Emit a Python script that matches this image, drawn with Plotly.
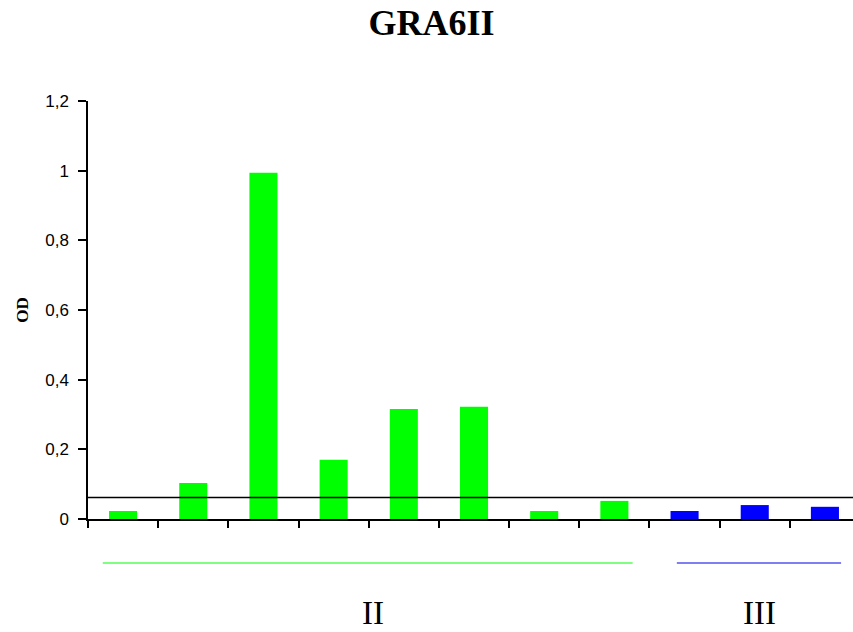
import plotly.graph_objects as go

categories = ["1", "2", "3", "4", "5", "6", "7", "8", "9", "10", "11"]
od_values = [0.023, 0.103, 0.994, 0.170, 0.316, 0.322, 0.023, 0.052, 0.023, 0.040, 0.035]
groups = ["II", "II", "II", "II", "II", "II", "II", "II", "III", "III", "III"]
cutoff = 0.062
y_ticks = [0, 0.2, 0.4, 0.6, 0.8, 1.0, 1.2]

group_colors = {"II": "#00FF00", "III": "#0000FF"}
line_colors = {"II": "#55FF55", "III": "#5555EE"}

xs = list(range(len(categories)))
fig = go.Figure()
fig.add_trace(go.Bar(
    x=xs, y=od_values,
    marker=dict(color=[group_colors[g] for g in groups], line=dict(width=0)),
    width=0.4, showlegend=False, hoverinfo="y",
))

# cutoff line
fig.add_shape(type="line", xref="paper", yref="y", x0=0, x1=1, y0=cutoff, y1=cutoff,
              line=dict(color="black", width=1.5))

# group underlines and labels
group_spans = {"II": (-0.29, 7.26), "III": (7.89, 10.23)}
label_pos = {"II": 3.56, "III": 9.07}
for g, (a, b) in group_spans.items():
    fig.add_shape(type="line", xref="x", yref="paper", x0=a, x1=b, y0=-0.105, y1=-0.105,
                  line=dict(color=line_colors[g], width=1.5))
    fig.add_annotation(x=label_pos[g], y=-0.225, xref="x", yref="paper", text=g,
                       showarrow=False, yanchor="middle",
                       font=dict(family="Liberation Serif", size=33, color="black"))

fig.update_layout(
    width=853, height=632,
    margin=dict(l=88, r=0, t=101, b=113),
    plot_bgcolor="white", paper_bgcolor="white",
    separators=", ",
    title=dict(text="<b>GRA6II</b>", x=0.506, xanchor="center", y=0.965, yanchor="middle",
               font=dict(family="Liberation Serif", size=36, color="black")),
    xaxis=dict(range=[-0.5, 10.4], showgrid=False, zeroline=False,
               showline=True, linecolor="black", linewidth=1.5,
               tickmode="array", tickvals=[i - 0.5 for i in range(12)], ticktext=[""] * 12,
               ticks="outside", ticklen=7, tickcolor="black", tickwidth=1.5),
    yaxis=dict(range=[0, 1.2], showgrid=False, zeroline=False,
               showline=True, linecolor="black", linewidth=1.5,
               tickmode="array", tickvals=y_ticks,
               ticktext=[("%g" % v).replace(".", ",") for v in y_ticks],
               ticks="outside", ticklen=8, tickcolor="black", tickwidth=1.5,
               ticklabelstandoff=6,
               tickfont=dict(family="Liberation Sans Narrow, Liberation Sans", size=17, color="black"),
               title=dict(text="<b>OD</b>", standoff=12,
                          font=dict(family="Liberation Serif", size=17, color="black"))),
)

fig.write_html("out.html")
